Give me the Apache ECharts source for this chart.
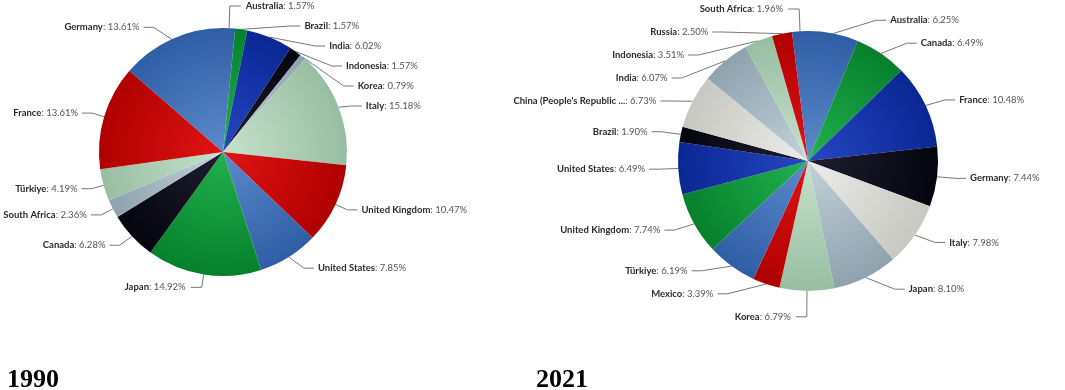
<!DOCTYPE html>
<html lang="en">
<head>
	<meta charset="UTF-8">
	<title>1990 / 2021</title>
	<style type="text/css">
		html, body { margin: 0; padding: 0; background: #fff; }
		#main { width: 1065px; height: 390px; }
	</style>
</head>
<body>
	<div id="main"></div>
	<script type="text/javascript" src="https://cdn.jsdelivr.net/npm/echarts@6/dist/echarts.min.js"></script>
	<script type="text/javascript">
		// 1990 shares (%)
		var names1990 = ['Australia', 'Brazil', 'India', 'Indonesia', 'Korea', 'Italy', 'United Kingdom',
			'United States', 'Japan', 'Canada', 'South Africa', 'Türkiye', 'France', 'Germany'];
		var values1990 = [1.57, 1.57, 6.02, 1.57, 0.79, 15.18, 10.47, 7.85, 14.92, 6.28, 2.36, 4.19, 13.61, 13.61];

		// 2021 shares (%)
		var names2021 = ['Australia', 'Canada', 'France', 'Germany', 'Italy', 'Japan', 'Korea', 'Mexico',
			'Türkiye', 'United Kingdom', 'United States', 'Brazil', "China (People's Republic ...",
			'India', 'Indonesia', 'Russia', 'South Africa'];
		var values2021 = [6.25, 6.49, 10.48, 7.44, 7.98, 8.10, 6.79, 3.39, 6.19, 7.74, 6.49, 1.90, 6.73,
			6.07, 3.51, 2.50, 1.96];

		// colour keys per slice
		var colorKeys1990 = ['blue', 'green', 'navy', 'black', 'grayblue', 'lightgreen', 'red',
			'blue', 'green', 'black', 'grayblue', 'lightgreen', 'red', 'blue'];
		var colorKeys2021 = ['blue', 'green', 'navy', 'black', 'lightgray', 'grayblue', 'lightgreen', 'red',
			'blue', 'green', 'navy', 'black', 'lightgray', 'grayblue', 'lightgreen', 'red', 'blue'];

		var PALETTE = {
			blue:       ['#5d8acb', '#2f5ea6'],
			green:      ['#22b24f', '#06802c'],
			navy:       ['#2646c4', '#0a2794'],
			black:      ['#1e1e30', '#05050f'],
			lightgray:  ['#ececea', '#c8c8c2'],
			grayblue:   ['#c4d2da', '#8ea2ae'],
			lightgreen: ['#c6e2cc', '#98bea2'],
			red:        ['#e01414', '#b00000']
		};

		// pie geometry and label spreading (px) per pie
		var CENTERS = [[223, 152], [808, 161]];
		var RADII = [124, 130];
		var LABEL_RADII = [150, 163];
		var GAPS = [20, 23];
		var TOPS = [6, 9];

		function gradient(key, cx, cy, r) {
			var c = PALETTE[key];
			return {
				type: 'radial', x: cx, y: cy, r: r, global: true,
				colorStops: [{offset: 0, color: c[0]}, {offset: 1, color: c[1]}]
			};
		}

		function buildData(names, values, keys, cx, cy, r) {
			var out = [];
			for (var i = 0; i < names.length; i++) {
				out.push({
					name: names[i],
					value: values[i],
					itemStyle: {color: gradient(keys[i], cx, cy, r)}
				});
			}
			return out;
		}

		// first pass: remember where echarts put the labels
		var layoutStore = [[], []];
		var spreadInfo = [[], []];

		function recordLabel(p) {
			layoutStore[p.seriesIndex][p.dataIndex] = {
				idx: p.dataIndex,
				x: p.labelRect.x + p.labelRect.width / 2,
				y: p.labelRect.y + p.labelRect.height / 2
			};
			return {};
		}

		// highcharts-like distribution: overlapping labels are grouped and centred on their mean
		function distribute(items, gap, top, bottom) {
			items.sort(function (a, b) { return a.y - b.y; });
			var groups = items.map(function (it) { return {members: [it], sum: it.y}; });
			function place(g) {
				var n = g.members.length, span = (n - 1) * gap;
				var start = g.sum / n - span / 2;
				start = Math.max(top, Math.min(start, bottom - span));
				g.start = start;
				g.end = start + span;
			}
			groups.forEach(place);
			var merged = true;
			while (merged) {
				merged = false;
				for (var k = 0; k < groups.length - 1; k++) {
					if (groups[k].end + gap > groups[k + 1].start) {
						groups[k].members = groups[k].members.concat(groups[k + 1].members);
						groups[k].sum += groups[k + 1].sum;
						groups.splice(k + 1, 1);
						place(groups[k]);
						merged = true;
						break;
					}
				}
			}
			groups.forEach(function (g) {
				g.members.forEach(function (m, j) { m.newY = g.start + j * gap; });
			});
		}

		function computeSpread() {
			for (var s = 0; s < 2; s++) {
				var cx = CENTERS[s][0], cy = CENTERS[s][1], R = LABEL_RADII[s];
				var left = [], right = [];
				layoutStore[s].forEach(function (it) {
					if (!it) return;
					(it.x < cx ? left : right).push(it);
				});
				distribute(left, GAPS[s], TOPS[s], 384);
				distribute(right, GAPS[s], TOPS[s], 384);
				[[left, -1], [right, 1]].forEach(function (pair) {
					pair[0].forEach(function (it) {
						var dy = it.newY - cy;
						var x = null;
						// labels along the sides follow a circle, the ones near top/bottom keep their place
						if (Math.abs(dy) < 0.9 * R) {
							x = cx + pair[1] * Math.sqrt(R * R - dy * dy);
						}
						spreadInfo[s][it.idx] = {y: it.newY, x: x, sign: pair[1]};
					});
				});
			}
		}

		// second pass: move labels and bend their lines
		function placeLabel(p) {
			var info = spreadInfo[p.seriesIndex][p.dataIndex];
			if (!info) return {};
			var out = {y: info.y, verticalAlign: 'middle'};
			var pts = p.labelLinePoints;
			if (info.x != null) {
				out.x = info.x;
				if (pts && pts.length === 3) {
					var p2x = info.x - info.sign * 4;
					var p1x = p2x - info.sign * 10;
					if (info.sign * (p1x - pts[0][0]) < 0) p1x = pts[0][0];
					out.labelLinePoints = [pts[0], [p1x, info.y], [p2x, info.y]];
				}
			} else if (pts && pts.length === 3) {
				out.labelLinePoints = [pts[0], [pts[1][0], info.y], [pts[2][0], info.y]];
			}
			return out;
		}

		var labelStyle = {
			show: true,
			position: 'outside',
			overflow: 'none',
			verticalAlign: 'middle',
			fontFamily: 'Lato',
			formatter: function (p) {
				return '{n|' + p.name + '}{v|: ' + p.value.toFixed(2) + '%}';
			},
			rich: {
				n: {fontFamily: 'Lato', fontSize: 9.5, fontWeight: 'bold', color: '#2b2b2b'},
				v: {fontFamily: 'Lato', fontSize: 9.5, color: '#555'}
			}
		};
		var lineStyle = {show: true, length: 13, length2: 11, lineStyle: {color: '#777', width: 1}};

		function pieSeries(i, name, names, values, keys) {
			return {
				name: name,
				type: 'pie',
				center: CENTERS[i],
				radius: RADII[i],
				startAngle: 90,
				minShowLabelAngle: 0,
				label: labelStyle,
				labelLine: lineStyle,
				labelLayout: recordLabel,
				itemStyle: {borderWidth: 0},
				emphasis: {disabled: true},
				data: buildData(names, values, keys, CENTERS[i][0], CENTERS[i][1], RADII[i])
			};
		}

		var chart = echarts.init(document.getElementById('main'));

		var option = {
			animation: false,
			title: [
				{text: '1990', left: 2, top: 362,
					textStyle: {fontFamily: 'Liberation Serif', fontWeight: 'bold', fontSize: 26, color: '#000'}},
				{text: '2021', left: 531, top: 362,
					textStyle: {fontFamily: 'Liberation Serif', fontWeight: 'bold', fontSize: 26, color: '#000'}}
			],
			series: [
				pieSeries(0, '1990', names1990, values1990, colorKeys1990),
				pieSeries(1, '2021', names2021, values2021, colorKeys2021)
			]
		};

		chart.setOption(option);
		computeSpread();
		chart.setOption({series: [{labelLayout: placeLabel}, {labelLayout: placeLabel}]});
	</script>
</body>
</html>
